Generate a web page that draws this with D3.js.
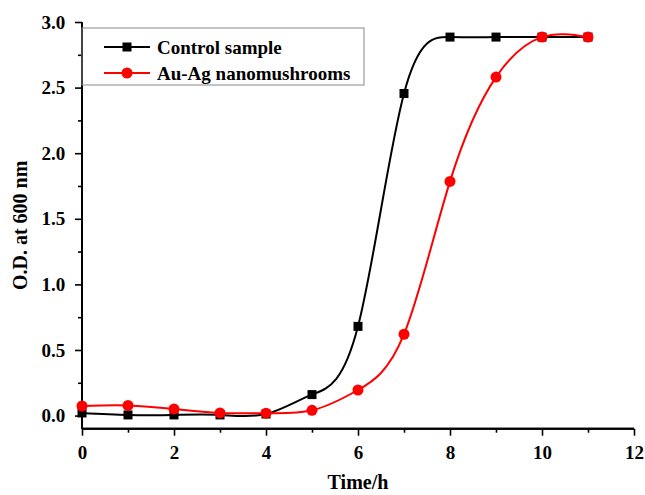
<!DOCTYPE html>
<html>
<head>
<meta charset="utf-8">
<script src="https://cdn.jsdelivr.net/npm/d3@7"></script>
<style>
  html, body { margin: 0; padding: 0; background: #fff; }
  svg { display: block; }
  text { font-family: "Liberation Serif", "Times New Roman", serif; font-weight: bold; fill: #000; }
</style>
</head>
<body>
<svg id="chart" width="645" height="495"></svg>
<script>
// Growth curves: optical density at 600 nm over time
const hours = [0, 1, 2, 3, 4, 5, 6, 7, 8, 9, 10, 11];
const controlOD = [0.02, 0.005, 0.005, 0.005, 0.012, 0.16, 0.68, 2.455, 2.885, 2.885, 2.885, 2.885];
const nanoOD = [0.073, 0.077, 0.05, 0.02, 0.018, 0.04, 0.195, 0.62, 1.785, 2.58, 2.885, 2.885];
const seriesNames = ["Control sample", "Au-Ag nanomushrooms"];
const seriesColors = ["#000000", "#ff0000"];
const xTicks = [0, 2, 4, 6, 8, 10, 12];
const yTicks = [0.0, 0.5, 1.0, 1.5, 2.0, 2.5, 3.0];

const svg = d3.select("#chart");

const x = d3.scaleLinear().domain([0, 12]).range([82, 634]);
const y = d3.scaleLinear().domain([-0.1, 3.0]).range([428.7, 22]);

// x axis: major ticks every 2 h, minor ticks in between
const xAxisG = svg.append("g").attr("transform", `translate(0,${y(-0.1)})`);
xAxisG.call(d3.axisBottom(x).tickValues(d3.range(1, 12, 2)).tickSize(4).tickFormat(""));
xAxisG.call(g => g.append("g").call(d3.axisBottom(x).tickValues(xTicks).tickSize(7).tickFormat(d3.format("d"))));
xAxisG.selectAll(".domain").attr("stroke-width", 2).attr("d", `M${x(0)},0H${x(12)}`);
xAxisG.selectAll(".tick line").attr("stroke-width", 1.6);
xAxisG.selectAll(".tick text").attr("font-size", 19).attr("dy", "1.05em").attr("font-family", "Liberation Serif").attr("font-weight", "bold");

// y axis: major ticks every 0.5, minor ticks every 0.25
const yAxisG = svg.append("g").attr("transform", `translate(${x(0)},0)`);
yAxisG.call(d3.axisLeft(y).tickValues(d3.range(0.25, 3, 0.5)).tickSize(4).tickFormat(""));
yAxisG.call(g => g.append("g").call(d3.axisLeft(y).tickValues(yTicks).tickSize(7).tickFormat(d3.format(".1f"))));
yAxisG.selectAll(".domain").attr("stroke-width", 2).attr("d", `M0,${y(3.0)}V${y(-0.1)}`);
yAxisG.selectAll(".tick line").attr("stroke-width", 1.6);
yAxisG.selectAll(".tick text").attr("font-size", 19).attr("dx", "-0.35em").attr("font-family", "Liberation Serif").attr("font-weight", "bold");

// axis titles
svg.append("text")
  .attr("x", (x(0) + x(12)) / 2)
  .attr("y", 489)
  .attr("text-anchor", "middle")
  .attr("font-size", 20)
  .text("Time/h");

svg.append("text")
  .attr("transform", `translate(27,${(y(3) + y(-0.1)) / 2}) rotate(-90)`)
  .attr("text-anchor", "middle")
  .attr("font-size", 20)
  .text("O.D. at 600 nm");

// smooth spline through the measured points
const line = d3.line()
  .x((d, i) => x(hours[i]))
  .y(d => y(d))
  .curve(d3.curveNatural);

const allSeries = [controlOD, nanoOD];

allSeries.forEach((vals, k) => {
  svg.append("path")
    .datum(vals)
    .attr("fill", "none")
    .attr("stroke", seriesColors[k])
    .attr("stroke-width", 2)
    .attr("d", line);
});

// markers: squares for control, circles for treated
svg.append("g").selectAll("rect")
  .data(controlOD)
  .join("rect")
  .attr("x", (d, i) => x(hours[i]) - 4.5)
  .attr("y", d => y(d) - 4.5)
  .attr("width", 9)
  .attr("height", 9)
  .attr("fill", seriesColors[0]);

svg.append("g").selectAll("circle")
  .data(nanoOD)
  .join("circle")
  .attr("cx", (d, i) => x(hours[i]))
  .attr("cy", d => y(d))
  .attr("r", 5.5)
  .attr("fill", seriesColors[1]);

// legend
const legend = svg.append("g");
legend.append("rect")
  .attr("x", x(0))
  .attr("y", 28)
  .attr("width", 364 - x(0))
  .attr("height", 57)
  .attr("fill", "none")
  .attr("stroke", "#888")
  .attr("stroke-width", 1);

const legendRows = [47, 73];
seriesNames.forEach((name, k) => {
  const ly = legendRows[k];
  legend.append("line")
    .attr("x1", 104).attr("x2", 150)
    .attr("y1", ly).attr("y2", ly)
    .attr("stroke", seriesColors[k])
    .attr("stroke-width", 2);
  if (k === 0) {
    legend.append("rect")
      .attr("x", 127 - 4.5).attr("y", ly - 4.5)
      .attr("width", 9).attr("height", 9)
      .attr("fill", seriesColors[k]);
  } else {
    legend.append("circle")
      .attr("cx", 127).attr("cy", ly).attr("r", 5.5)
      .attr("fill", seriesColors[k]);
  }
  legend.append("text")
    .attr("x", 157)
    .attr("y", ly + 6.5)
    .attr("font-size", 19)
    .text(name);
});
</script>
</body>
</html>
